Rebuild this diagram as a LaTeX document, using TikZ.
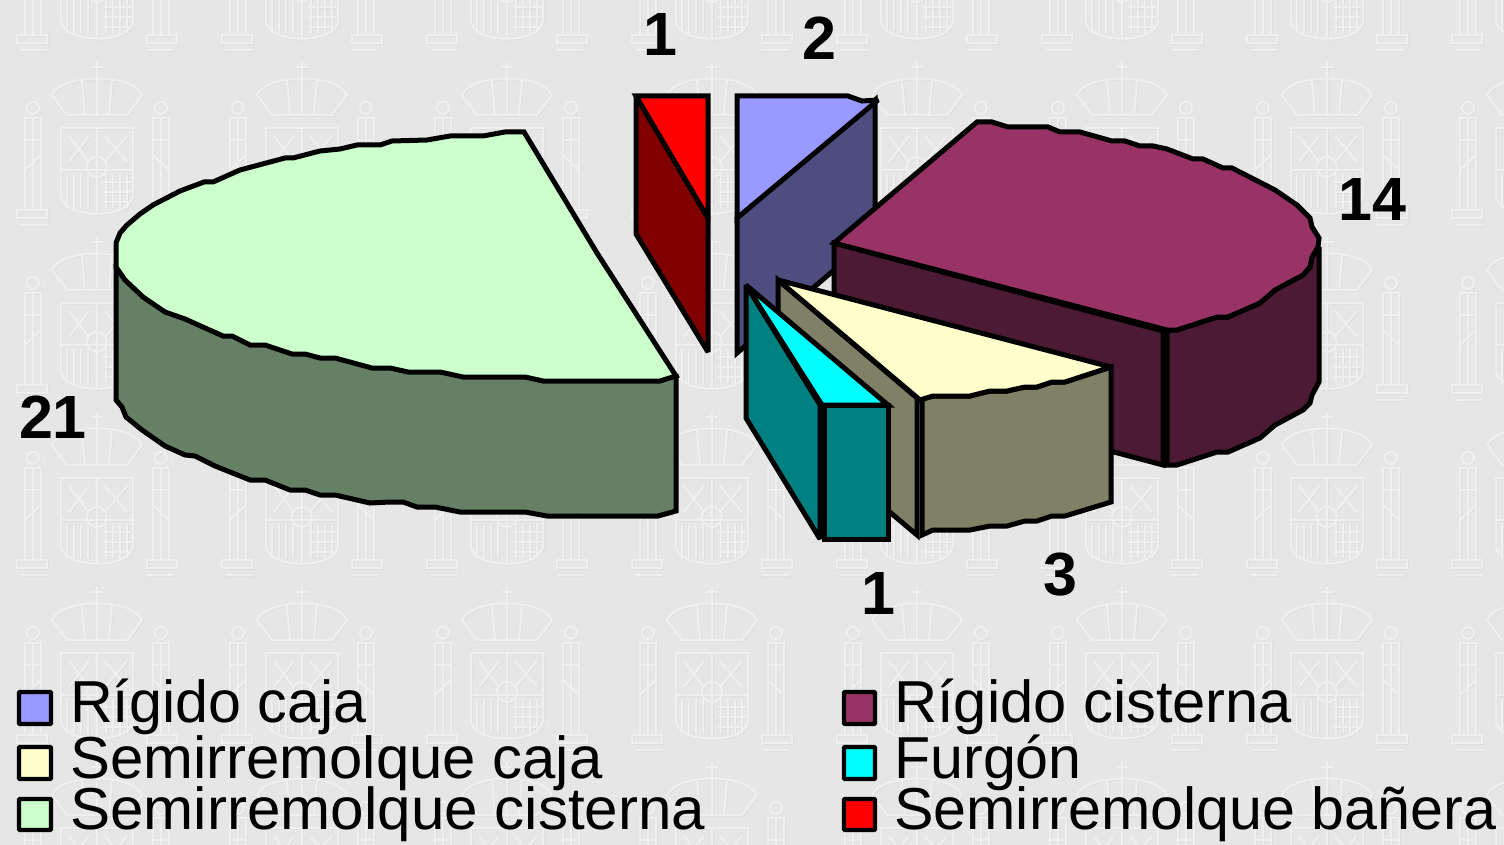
\documentclass[tikz,border=0pt]{standalone}
\usepackage{fontspec}
\setmainfont{Liberation Sans}
\definecolor{bgc}{HTML}{E6E6E6}
\definecolor{greenT}{HTML}{CCFFCC}\definecolor{greenS}{HTML}{668066}
\definecolor{redT}{HTML}{FF0000}\definecolor{redS}{HTML}{800000}
\definecolor{blueT}{HTML}{9999FF}\definecolor{blueS}{HTML}{4D4D80}
\definecolor{magT}{HTML}{993366}\definecolor{magS}{HTML}{4D1A33}
\definecolor{yelT}{HTML}{FFFFCC}\definecolor{yelS}{HTML}{808066}
\definecolor{cyaT}{HTML}{00FFFF}\definecolor{cyaS}{HTML}{008080}
\definecolor{wmHi}{HTML}{EFEFEF}\definecolor{wmLo}{HTML}{DFDFDF}
\newcommand{\crestart}{%
 \path (-45,25) .. controls (-35,3) and (35,3) .. (45,25) -- (30,45) -- (-30,45) -- cycle;
 \path (-15,10) -- (-12,45) (0,5) -- (0,45) (15,10) -- (12,45) (0,-8) -- (0,5) (-6,-3) -- (6,-3);
 \foreach \sx in {-1,1}{
  \path (\sx*72,48) rectangle (\sx*56,140) (\sx*80,140) rectangle (\sx*50,148);
  \path (\sx*64,38) circle (6);
  \path (\sx*64,48) -- (\sx*64,140) (\sx*72,70) -- (\sx*56,70) (\sx*72,100) -- (\sx*56,85);
  \path (\sx*76,155) -- (\sx*50,155);
 }
 \path (-36,58) -- (36,58) -- (36,125) .. controls (36,150) and (-36,150) .. (-36,125) -- cycle;
 \path (0,58) -- (0,143) (-36,100) -- (36,100);
 \path (0,97) circle (10);
 \foreach \xx in {-30,-23,-16,-9}{\path (\xx,104) -- (\xx,138);}
 \foreach \xx in {9,16,23,30}{\path (\xx,104) -- (\xx,138);}
 \foreach \yy in {112,122,132}{\path (6,\yy) -- (34,\yy);}
 \path (-28,66) -- (-8,92) (-28,92) -- (-8,66) (8,66) -- (30,92) (8,92) -- (30,66);
}
\tikzset{
 face/.style={draw=black,line width=5pt,line join=miter,miter limit=3},
 val/.style={font=\bfseries\fontsize{61}{61}\selectfont,inner sep=0pt,anchor=center},
 swatch/.style={draw=black,line width=4.4pt,rounded corners=1pt,outer sep=0pt,inner sep=0pt},
 leg/.style={font=\fontsize{59.2}{59.2}\selectfont,inner sep=0pt,anchor=base west},
 wmH/.style={every path/.style={draw=wmHi,line width=2pt}},
 wmL/.style={every path/.style={draw=wmLo,line width=0.8pt}},
}
\begin{document}
\begin{tikzpicture}[x=1pt,y=-1pt]
\useasboundingbox (0,0) rectangle (1504,845);
\fill[bgc] (0,0) rectangle (1504,845);
\begin{scope}
\clip (0,0) rectangle (1504,845);
\foreach \cx in {97,302,507,712,917,1122,1327,1532}{
 \foreach \cy in {-105,70,245,420,595,770}{
  \begin{scope}[shift={(\cx+1.4,\cy+1.4)},wmL] \crestart \end{scope}
  \begin{scope}[shift={(\cx,\cy)},wmH] \crestart \end{scope}
 }
}
\end{scope}
% green slice
\draw[face,fill=greenS] (116,267) -- (116,400) -- (122,407) -- (126,417) -- (142,430) -- (165,446) -- (185,455) -- (195,456) -- (215,466) -- (250,480) -- (265,480) -- (290,490) -- (305,490) -- (320,495) -- (335,495) -- (370,503) -- (390,502) -- (403,502) -- (417,507) -- (435,507) -- (460,512) -- (525,512) -- (547,516) -- (658,516) -- (676,511) -- (676,376) -- cycle;
\draw[face,fill=greenT] (524,132) -- (505,132) -- (483,136) -- (450,136) -- (427,140) -- (392,141) -- (380,145) -- (357,145) -- (340,149) -- (320,151) -- (293,158) -- (285,158) -- (240,170) -- (213,182) -- (204,182) -- (180,191) -- (153,205) -- (140,214) -- (127,225) -- (120,233) -- (116,243) -- (116,267) -- (125,280) -- (143,297) -- (165,312) -- (185,319) -- (223,336) -- (232,336) -- (250,345) -- (265,345) -- (292,354) -- (305,354) -- (320,358) -- (335,358) -- (372,368) -- (390,368) -- (408,372) -- (440,372) -- (463,377) -- (525,377) -- (543,381) -- (660,381) -- (676,376) -- (597,253) -- cycle;
% red slice
\draw[face,fill=redS] (636,96) -- (708,218) -- (708,352) -- (636,234) -- cycle;
\draw[face,fill=redT] (636,96) -- (708,96) -- (708,218) -- cycle;
% blue slice
\draw[face,fill=blueS] (737,218) -- (875,100) -- (875,235) -- (737,353) -- cycle;
\draw[face,fill=blueT] (737,96) -- (848,96) -- (862,101) -- (878,100) -- (737,218) -- cycle;
% magenta slice
\draw[face,fill=magS] (1167,330) -- (1177,330) -- (1217,317) -- (1228,317) -- (1260,303) -- (1275,290) -- (1303,275) -- (1310,267) -- (1312,257) -- (1319,247) -- (1319,382) -- (1312,395) -- (1310,403) -- (1303,410) -- (1275,425) -- (1260,438) -- (1228,452) -- (1217,452) -- (1177,465) -- (1167,465) -- cycle;
\draw[face,fill=magS] (834,243) -- (1163,331) -- (1163,465) -- (834,378) -- cycle;
\draw[face,fill=magT] (834,243) -- (977,122) -- (992,122) -- (1008,127) -- (1048,127) -- (1060,132) -- (1080,132) -- (1112,141) -- (1125,141) -- (1140,146) -- (1153,146) -- (1167,149) -- (1193,159) -- (1203,159) -- (1223,168) -- (1232,168) -- (1275,190) -- (1297,205) -- (1310,218) -- (1312,227) -- (1319,238) -- (1318,247) -- (1312,257) -- (1310,267) -- (1303,275) -- (1275,290) -- (1260,303) -- (1228,317) -- (1217,317) -- (1177,330) -- (1167,330) -- cycle;
% yellow slice
\draw[face,fill=yelS] (778,280) -- (917,398) -- (917,535) -- (778,418) -- cycle;
\draw[face,fill=yelS] (922,399) -- (933,396) -- (970,396) -- (990,391) -- (1007,391) -- (1025,387) -- (1037,387) -- (1052,382) -- (1065,382) -- (1111,367) -- (1111,502) -- (1065,516) -- (1052,516) -- (1037,521) -- (1025,521) -- (1007,526) -- (990,526) -- (970,530) -- (933,530) -- (922,535) -- cycle;
\draw[face,fill=yelT] (778,280) -- (1111,367) -- (1065,382) -- (1052,382) -- (1037,387) -- (1025,387) -- (1007,391) -- (990,391) -- (970,396) -- (933,396) -- (920,400) -- cycle;
% cyan slice
\draw[face,fill=cyaS] (746,285) -- (820,405) -- (820,539) -- (746,418) -- cycle;
\draw[face,fill=cyaS] (824,405) -- (888,405) -- (888,539) -- (824,539) -- cycle;
\draw[face,fill=cyaT] (746,285) -- (888,405) -- (822,405) -- cycle;
% values
\node[val] (v1) at (660,35) {1};
\node[val] (v2) at (819,38) {2};
\node[val] (v3) at (1372,200) {14};
\node[val] (v4) at (53,417) {21};
\node[val] (v5) at (878,594) {1};
\node[val] (v6) at (1060,575) {3};
% legend
\node[swatch,fill=blueT,minimum width=32pt,minimum height=32pt] (s1) at (35,708) {};
\node[swatch,fill=yelT,minimum width=32pt,minimum height=32pt] (s2) at (35,763) {};
\node[swatch,fill=greenT,minimum width=32pt,minimum height=31pt] (s3) at (35,814.5) {};
\node[swatch,fill=magT,minimum width=31pt,minimum height=32pt] (s4) at (859.5,708) {};
\node[swatch,fill=cyaT,minimum width=31pt,minimum height=32pt] (s5) at (859.5,763) {};
\node[swatch,fill=redT,minimum width=31pt,minimum height=31pt] (s6) at (859.5,814.5) {};
\node[leg] (t1) at (70,722) {Rígido caja};
\node[leg] (t2) at (70,778) {\addfontfeature{FakeStretch=1.011}Semirremolque caja};
\node[leg] (t3) at (70,829) {\addfontfeature{FakeStretch=1.016}Semirremolque cisterna};
\node[leg] (t4) at (894,722) {\addfontfeature{FakeStretch=1.008}Rígido cisterna};
\node[leg] (t5) at (894,778) {Furgón};
\node[leg] (t6) at (894,829) {Semirremolque bañera};
\end{tikzpicture}
\end{document}
